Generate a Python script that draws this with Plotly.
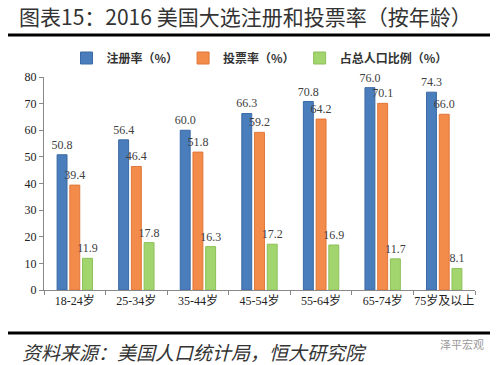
import plotly.graph_objects as go

categories = ["18-24岁", "25-34岁", "35-44岁", "45-54岁", "55-64岁", "65-74岁", "75岁及以上"]
reg_rate = [50.8, 56.4, 60.0, 66.3, 70.8, 76.0, 74.3]
vote_rate = [39.4, 46.4, 51.8, 59.2, 64.2, 70.1, 66.0]
pop_share = [11.9, 17.8, 16.3, 17.2, 16.9, 11.7, 8.1]
series_names = ["注册率（%）", "投票率（%）", "占总人口比例（%）"]
colors = ["#4A7DBB", "#F38B4A", "#A3D56F"]
line_colors = ["#3A6AA5", "#E0773A", "#8CC05A"]

W, H = 500, 365
L, R, T, B = 44, 25, 77, 75
pw, ph = W - L - R, H - T - B

def px(x):
    return (x - L) / pw

def py(y):
    return 1 - (y - T) / ph

serif = "Liberation Serif, Noto Sans CJK SC, serif"

fig = go.Figure()
for name, vals, c, lc in zip(series_names, [reg_rate, vote_rate, pop_share], colors, line_colors):
    fig.add_trace(go.Bar(
        x=categories, y=vals, name="<b>" + name + "</b>",
        marker=dict(color=c, line=dict(color=lc, width=1)),
        text=[f"{v:.1f}" for v in vals], textposition="outside",
        constraintext="none",
        textfont=dict(family=serif, size=12, color="#404040"),
        cliponaxis=False,
    ))

fig.update_layout(
    width=W, height=H,
    margin=dict(l=L, r=R, t=T, b=B, autoexpand=False),
    paper_bgcolor="white", plot_bgcolor="white",
    barmode="group", bargap=0.38, bargroupgap=0.22,
    showlegend=True,
    legend=dict(orientation="h", x=0.5, xanchor="center", y=py(58), yanchor="middle",
                font=dict(family="Noto Sans CJK SC", size=12, color="#333333"),
                tracegroupgap=0, bgcolor="rgba(0,0,0,0)"),
    xaxis=dict(showline=True, linecolor="#888888", linewidth=1, ticks="outside",
               tickson="boundaries", ticklen=4, tickcolor="#888888", tickangle=0,
               automargin=False,
               tickfont=dict(family=serif, size=12, color="#222222"), showgrid=False),
    yaxis=dict(range=[0, 80], dtick=10, showline=True, linecolor="#888888", linewidth=1,
               ticks="outside", ticklen=4, tickcolor="#888888", showgrid=False, automargin=False,
               tickfont=dict(family=serif, size=12, color="#222222"), zeroline=False),
    font=dict(family="Noto Sans CJK SC"),
)

# title
fig.add_annotation(xref="paper", yref="paper", x=px(245), y=py(16), xanchor="center", yanchor="middle",
                   text="图表15：2016 美国大选注册和投票率（按年龄）", showarrow=False,
                   font=dict(family="Noto Sans CJK SC", size=21, color="#333333"))
# rules
fig.add_shape(type="line", xref="paper", yref="paper", x0=px(8), x1=px(490), y0=py(35), y1=py(35),
              line=dict(color="black", width=3))
fig.add_shape(type="line", xref="paper", yref="paper", x0=px(8), x1=px(490), y0=py(333), y1=py(333),
              line=dict(color="black", width=3))
# footnote
fig.add_annotation(xref="paper", yref="paper", x=px(20), y=py(351), xanchor="left", yanchor="middle",
                   text="<i>资料来源：美国人口统计局，恒大研究院</i>", showarrow=False,
                   font=dict(family="Noto Sans CJK SC", size=19, color="#333333"))
fig.add_annotation(xref="paper", yref="paper", x=px(486), y=py(344), xanchor="right", yanchor="middle",
                   text="泽平宏观", showarrow=False,
                   font=dict(family="Noto Sans CJK SC", size=11, color="#999999"))

fig.write_html("out.html", config={"displayModeBar": False},
               post_script="document.body.style.margin='0';document.body.style.overflow='hidden';")
